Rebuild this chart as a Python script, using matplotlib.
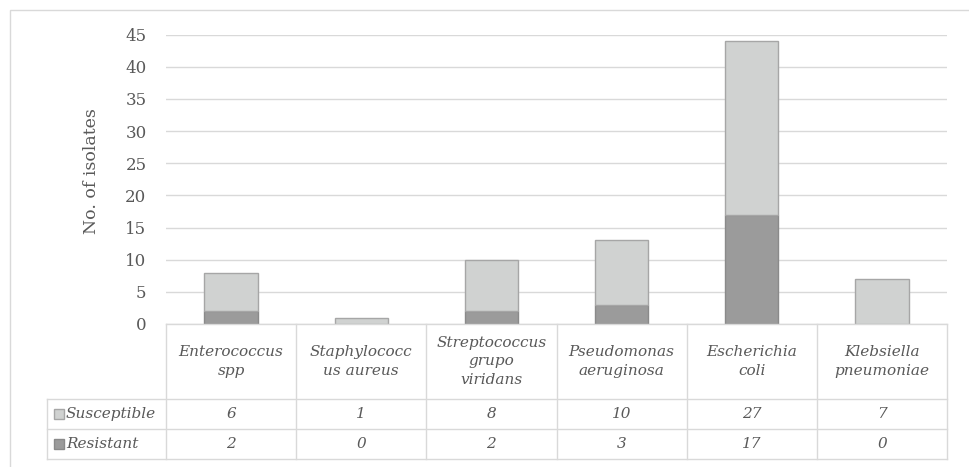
import matplotlib.pyplot as plt
from matplotlib.patches import Rectangle

# ====== Data ======
categories = [
    "Enterococcus\nspp",
    "Staphylococc\nus aureus",
    "Streptococcus\ngrupo\nviridans",
    "Pseudomonas\naeruginosa",
    "Escherichia\ncoli",
    "Klebsiella\npneumoniae",
]
susceptible = [6, 1, 8, 10, 27, 7]
resistant = [2, 0, 2, 3, 17, 0]
series_names = ["Susceptible", "Resistant"]
y_ticks = list(range(0, 50, 5))

# ====== Style ======
W, H = 970, 467
C_SUSC = "#d0d2d1"
C_SUSC_EDGE = "#a6a6a6"
C_RES = "#9b9b9b"
C_RES_EDGE = "#8a8a8a"
C_GRID = "#d9d9d9"
C_TEXT = "#595959"
FONT = "DejaVu Serif"
FS = 11

plot_left, plot_right = 166, 947
plot_top, plot_bottom = 34.5, 324
table_left, table_bottom = 47, 459
header_h, row_h = 75, 30

fig = plt.figure(figsize=(W / 100, H / 100), dpi=100)
fig.patch.set_facecolor("white")

# chart-area border (runs off the right/bottom edge as in the source)
fig.patches.append(Rectangle((10 / W, -0.05), 1.2, 1 - 10 / H + 0.05,
                             transform=fig.transFigure, fill=False,
                             edgecolor=C_GRID, linewidth=1))

# ====== Bar plot ======
ax = fig.add_axes([plot_left / W, 1 - plot_bottom / H,
                   (plot_right - plot_left) / W, (plot_bottom - plot_top) / H])
x = list(range(len(categories)))
ax.bar(x, resistant, width=0.41, color=C_RES, edgecolor=C_RES_EDGE,
       linewidth=1, zorder=3)
ax.bar(x, susceptible, width=0.41, bottom=resistant, color=C_SUSC,
       edgecolor=C_SUSC_EDGE, linewidth=1, zorder=3)
ax.set_xlim(-0.5, len(categories) - 0.5)
ax.set_ylim(0, 45)
ax.set_yticks(y_ticks)
ax.set_xticks([])
ax.yaxis.grid(True, color=C_GRID, linewidth=1, zorder=0)
ax.set_axisbelow(True)
for s in ax.spines.values():
    s.set_visible(False)
ax.tick_params(axis="y", length=0, pad=14, labelcolor=C_TEXT, labelsize=12)
for lbl in ax.get_yticklabels():
    lbl.set_fontfamily(FONT)

fig.text(92 / W, 1 - 171 / H, "No. of isolates", rotation=90, ha="center",
         va="center", color=C_TEXT, fontsize=12.5, family=FONT)

# ====== Data table ======
col_w = (plot_right - plot_left) / len(categories)
xmin = -0.5 - (plot_left - table_left) / col_w
xmax = len(categories) - 0.5
table_h = header_h + 2 * row_h
tax = fig.add_axes([table_left / W, 1 - table_bottom / H,
                    (plot_right - table_left) / W, table_h / H])
tax.set_xlim(xmin, xmax)
tax.set_ylim(table_h, 0)
tax.axis("off")

lk = dict(color=C_GRID, linewidth=1, clip_on=False)
for i in range(len(categories) + 1):
    tax.plot([i - 0.5, i - 0.5], [0, table_h], **lk)
tax.plot([xmin, xmin], [header_h, table_h], **lk)
tax.plot([-0.5, xmax], [0, 0], **lk)
for yy in (header_h, header_h + row_h, table_h):
    tax.plot([xmin, xmax], [yy, yy], **lk)

tk = dict(ha="center", va="center", color=C_TEXT, fontsize=FS,
          family=FONT, style="italic")
for i, name in enumerate(categories):
    tax.text(i, header_h / 2, name, linespacing=1.4, **tk)
    tax.text(i, header_h + row_h / 2, str(susceptible[i]), **tk)
    tax.text(i, header_h + 1.5 * row_h, str(resistant[i]), **tk)

# legend keys inside the table
rows = [(series_names[0], C_SUSC, C_SUSC_EDGE), (series_names[1], C_RES, C_RES_EDGE)]
for r, (name, fc, ec) in enumerate(rows):
    yc = header_h + (r + 0.5) * row_h
    tax.plot([xmin + 11.5 / col_w], [yc], marker="s", markersize=7.5,
             markerfacecolor=fc, markeredgecolor=ec, clip_on=False)
    tax.text(xmin + 19 / col_w, yc, name, ha="left", va="center",
             color=C_TEXT, fontsize=FS, family=FONT, style="italic")

fig.savefig("out.png", dpi=100, facecolor="white")
